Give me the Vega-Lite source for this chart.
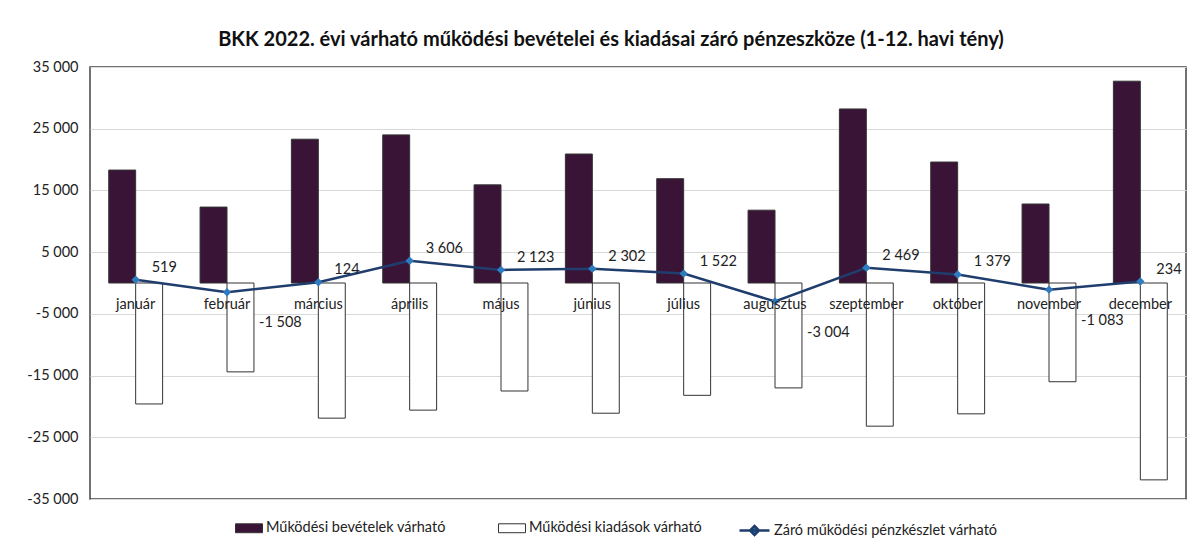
{
  "$schema": "https://vega.github.io/schema/vega-lite/v6.json",
  "width": 1096,
  "height": 432,
  "autosize": {"type": "none"},
  "padding": {"left": 90, "top": 67, "right": 9, "bottom": 41},
  "background": "white",
  "config": {
    "locale": {"number": {"decimal": ",", "thousands": " ", "grouping": [3], "currency": ["", ""], "minus": "-"}},
    "font": "Lato",
    "view": {"stroke": "#444", "strokeWidth": 1.5},
    "axisY": {"grid": true, "gridColor": "#d9d9d9", "gridWidth": 1, "domain": false, "ticks": false, "labelPadding": 12, "labelFontSize": 14.5, "labelColor": "#222", "title": null}
  },
  "title": {"text": "BKK 2022. évi várható működési bevételei és kiadásai záró pénzeszköze (1-12. havi tény)", "fontSize": 20, "fontWeight": "bold", "color": "#111", "offset": 9, "dx": -27, "anchor": "middle"},
  "datasets": {
    "bars": [
      {"month": "január", "series": "Működési bevételek várható", "value": 18300},
      {"month": "január", "series": "Működési kiadások várható", "value": -19600},
      {"month": "február", "series": "Működési bevételek várható", "value": 12300},
      {"month": "február", "series": "Működési kiadások várható", "value": -14400},
      {"month": "március", "series": "Működési bevételek várható", "value": 23300},
      {"month": "március", "series": "Működési kiadások várható", "value": -21900},
      {"month": "április", "series": "Működési bevételek várható", "value": 24000},
      {"month": "április", "series": "Működési kiadások várható", "value": -20600},
      {"month": "május", "series": "Működési bevételek várható", "value": 15900},
      {"month": "május", "series": "Működési kiadások várható", "value": -17500},
      {"month": "június", "series": "Működési bevételek várható", "value": 20900},
      {"month": "június", "series": "Működési kiadások várható", "value": -21100},
      {"month": "július", "series": "Működési bevételek várható", "value": 16900},
      {"month": "július", "series": "Működési kiadások várható", "value": -18200},
      {"month": "augusztus", "series": "Működési bevételek várható", "value": 11800},
      {"month": "augusztus", "series": "Működési kiadások várható", "value": -17000},
      {"month": "szeptember", "series": "Működési bevételek várható", "value": 28200},
      {"month": "szeptember", "series": "Működési kiadások várható", "value": -23200},
      {"month": "október", "series": "Működési bevételek várható", "value": 19600},
      {"month": "október", "series": "Működési kiadások várható", "value": -21200},
      {"month": "november", "series": "Működési bevételek várható", "value": 12800},
      {"month": "november", "series": "Működési kiadások várható", "value": -16000},
      {"month": "december", "series": "Működési bevételek várható", "value": 32700},
      {"month": "december", "series": "Működési kiadások várható", "value": -31900}
    ],
    "line": [
      {"month": "január", "series": "Záró működési pénzkészlet várható", "value": 519},
      {"month": "február", "series": "Záró működési pénzkészlet várható", "value": -1508},
      {"month": "március", "series": "Záró működési pénzkészlet várható", "value": 124},
      {"month": "április", "series": "Záró működési pénzkészlet várható", "value": 3606},
      {"month": "május", "series": "Záró működési pénzkészlet várható", "value": 2123},
      {"month": "június", "series": "Záró működési pénzkészlet várható", "value": 2302},
      {"month": "július", "series": "Záró működési pénzkészlet várható", "value": 1522},
      {"month": "augusztus", "series": "Záró működési pénzkészlet várható", "value": -3004},
      {"month": "szeptember", "series": "Záró működési pénzkészlet várható", "value": 2469},
      {"month": "október", "series": "Záró működési pénzkészlet várható", "value": 1379},
      {"month": "november", "series": "Záró működési pénzkészlet várható", "value": -1083},
      {"month": "december", "series": "Záró működési pénzkészlet várható", "value": 234}
    ]
  },
  "encoding": {
    "x": {"field": "month", "type": "nominal", "sort": ["január", "február", "március", "április", "május", "június", "július", "augusztus", "szeptember", "október", "november", "december"], "scale": {"paddingInner": 0.41, "paddingOuter": 0.205}, "axis": null}
  },
  "layer": [
    {
      "data": {"name": "bars"},
      "mark": {"type": "bar", "stroke": "#333", "strokeWidth": 1},
      "encoding": {
        "xOffset": {"field": "series", "type": "nominal", "sort": ["Működési bevételek várható", "Működési kiadások várható"]},
        "y": {"field": "value", "type": "quantitative", "scale": {"domain": [-35000, 35000], "nice": false}, "axis": {"values": [-35000, -25000, -15000, -5000, 5000, 15000, 25000, 35000], "labelExpr": "format(datum.value, ',.0f')"}},
        "fill": {
          "field": "series", "type": "nominal",
          "scale": {"domain": ["Működési bevételek várható", "Működési kiadások várható"], "range": ["#3a1437", "#ffffff"]},
          "legend": {
            "orient": "none", "legendX": 145, "legendY": 447, "direction": "horizontal", "title": null,
            "symbolType": "M-1,-0.33H1V0.33H-1Z", "symbolSize": 729, "symbolStrokeColor": "#333", "symbolStrokeWidth": 1,
            "labelFontSize": 14.5, "labelColor": "#222", "labelLimit": 400, "columnPadding": 50, "labelOffset": 3
          }
        }
      }
    },
    {
      "mark": {"type": "rule", "strokeDash": [4, 3], "color": "#9a9a9a", "strokeWidth": 1.5},
      "encoding": {"y": {"datum": 0, "type": "quantitative"}}
    },
    {
      "data": {"name": "line"},
      "mark": {"type": "line", "strokeWidth": 2.5},
      "encoding": {
        "y": {"field": "value", "type": "quantitative"},
        "stroke": {
          "field": "series", "type": "nominal",
          "scale": {"range": ["#1f3d6d"]},
          "legend": {
            "orient": "none", "legendX": 648, "legendY": 447, "direction": "horizontal", "title": null,
            "symbolType": "M-1,0H1M0,-0.3L0.3,0L0,0.3L-0.3,0Z", "symbolSize": 900, "symbolStrokeWidth": 2.5, "symbolFillColor": "#2e7bbf",
            "labelFontSize": 14.5, "labelColor": "#222", "labelLimit": 400, "labelOffset": 3,
            "encode": {"symbols": {"update": {"fill": {"value": "#2e7bbf"}}}}
          }
        }
      }
    },
    {
      "data": {"name": "line"},
      "mark": {"type": "point", "shape": "diamond", "filled": true, "color": "#2e7bbf", "size": 70, "opacity": 1},
      "encoding": {"y": {"field": "value", "type": "quantitative"}}
    },
    {
      "data": {"name": "line"},
      "transform": [{"filter": "datum.value >= 0"}],
      "mark": {"type": "text", "align": "left", "baseline": "middle", "dx": 16, "dy": -12, "fontSize": 14.5, "color": "#222"},
      "encoding": {"y": {"field": "value", "type": "quantitative"}, "text": {"field": "value", "type": "quantitative", "format": ",.0f"}}
    },
    {
      "data": {"name": "line"},
      "transform": [{"filter": "datum.value < 0"}],
      "mark": {"type": "text", "align": "left", "baseline": "middle", "dx": 32, "dy": 31, "fontSize": 14.5, "color": "#222"},
      "encoding": {"y": {"field": "value", "type": "quantitative"}, "text": {"field": "value", "type": "quantitative", "format": ",.0f"}}
    },
    {
      "data": {"name": "line"},
      "mark": {"type": "text", "align": "center", "baseline": "middle", "dy": 22, "fontSize": 14.5, "color": "#222"},
      "encoding": {"y": {"datum": 0, "type": "quantitative"}, "text": {"field": "month", "type": "nominal"}}
    }
  ]
}
